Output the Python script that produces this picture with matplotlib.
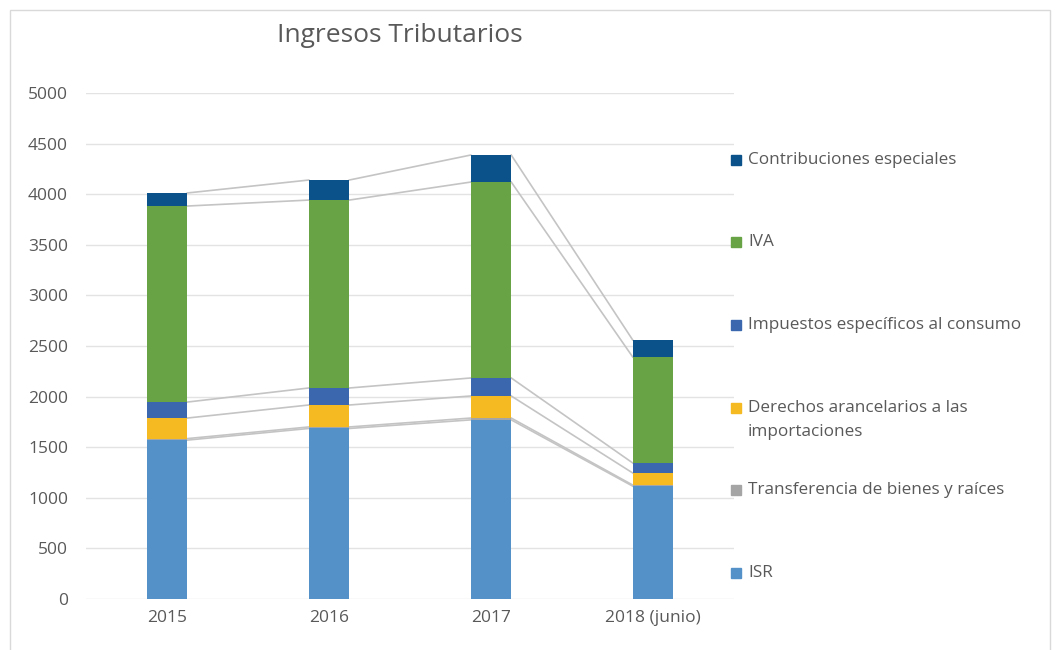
import numpy as np
import matplotlib.pyplot as plt
from matplotlib.patches import Rectangle

plt.rcParams['font.family'] = ['Open Sans', 'DejaVu Sans']

# datos (millones)
anios = ['2015', '2016', '2017', '2018 (junio)']
isr = [1570, 1685, 1770, 1115]
transferencia = [15, 15, 18, 11]
derechos = [203, 217, 218, 119]
impuestos = [158, 168, 178, 99]
iva = [1937, 1857, 1936, 1047]
contribuciones = [129, 198, 267, 168]

series = [
    ('ISR', isr, '#5591c9'),
    ('Transferencia de bienes y raíces', transferencia, '#a5a5a5'),
    ('Derechos arancelarios a las\nimportaciones', derechos, '#f5b921'),
    ('Impuestos específicos al consumo', impuestos, '#3b67ae'),
    ('IVA', iva, '#68a446'),
    ('Contribuciones especiales', contribuciones, '#0c528a'),
]

txt = '#595959'
fig = plt.figure(figsize=(10.63, 6.5), dpi=100)
ax = fig.add_axes([86 / 1063, 1 - 599 / 650, 648 / 1063, 506 / 650])

x = np.arange(len(anios))
w = 0.25
bottom = np.zeros(len(anios))
for name, vals, col in series:
    vals = np.array(vals, dtype=float)
    ax.bar(x, vals, w, bottom=bottom, color=col, zorder=3)
    bottom = bottom + vals
    # lineas de serie entre barras
    for i in range(len(x) - 1):
        ax.plot([x[i] + w / 2, x[i + 1] - w / 2], [bottom[i], bottom[i + 1]],
                color='#c4c4c4', lw=1.2, zorder=2)

ax.set_xlim(-0.5, len(anios) - 0.5)
ax.set_ylim(0, 5000)
ax.set_yticks(np.arange(0, 5001, 500))
ax.set_xticks(x)
ax.set_xticklabels(anios)
ax.grid(axis='y', color='#e3e3e3', lw=1, zorder=0)
for s in ax.spines.values():
    s.set_visible(False)
ax.tick_params(length=0, colors=txt, labelsize=12.5)
ax.tick_params(axis='y', pad=13)
ax.tick_params(axis='x', pad=8)

fig.text(400 / 1063, 1 - 35 / 650, 'Ingresos Tributarios', ha='center', va='center',
         fontsize=19, color=txt)

# leyenda a la derecha
leg_y = [573, 490, 408, 325, 242, 160]
for (name, vals, col), yy in zip(series, leg_y):
    fig.patches.append(Rectangle(((736 - 5) / 1063, 1 - (yy + 5) / 650), 10 / 1063, 10 / 650,
                                 transform=fig.transFigure, color=col))
    ty = yy + 12 if '\n' in name else yy
    fig.text(748 / 1063, 1 - ty / 650, name, ha='left', va='center',
             fontsize=12.3, color=txt, linespacing=1.6)

# borde del grafico
fig.patches.append(Rectangle((10 / 1063, -0.01), 1040 / 1063, 1 - 10 / 650 + 0.01,
                             transform=fig.transFigure, fill=False, ec='#d9d9d9', lw=1))

fig.savefig('out.png', dpi=100)
